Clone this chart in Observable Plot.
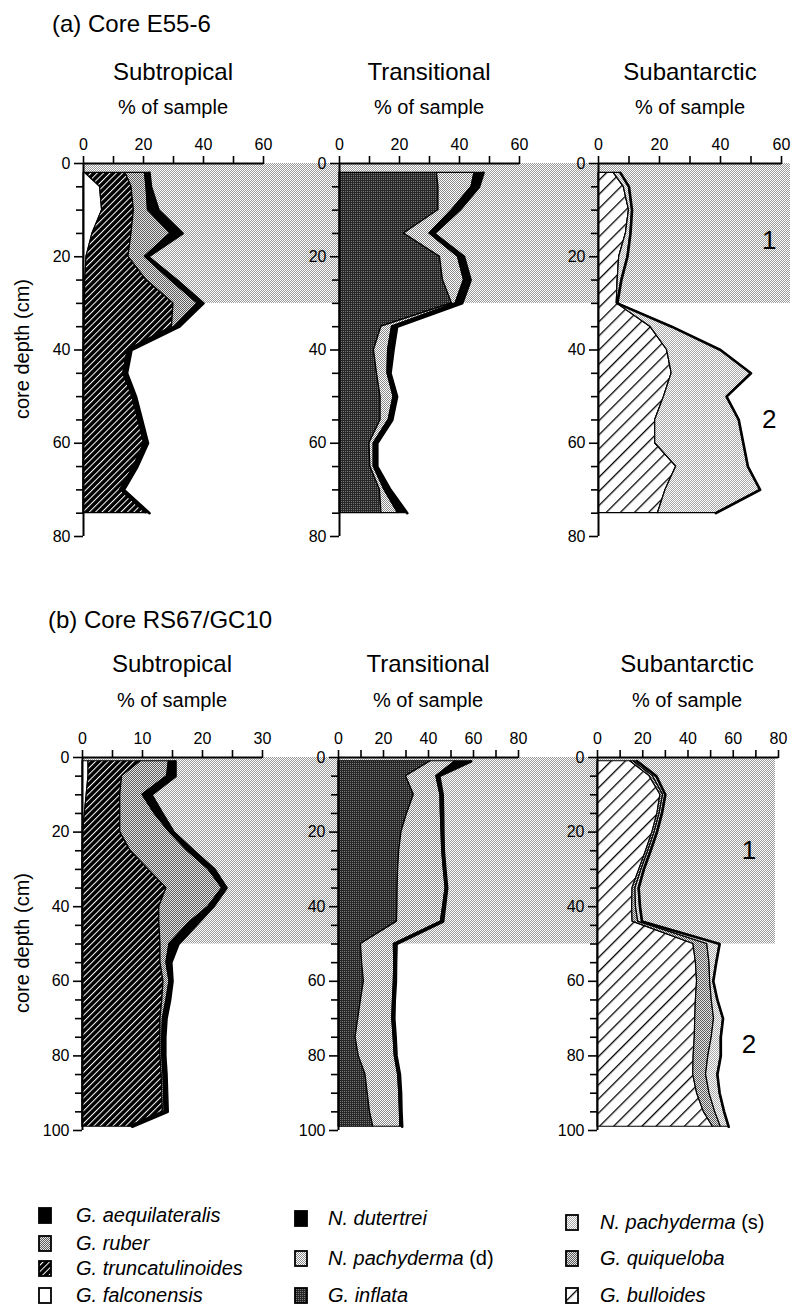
<!DOCTYPE html>
<html>
<head>
<meta charset="utf-8">
<title>Planktonic foraminifera in cores E55-6 and RS67/GC10</title>
<script src="https://cdn.jsdelivr.net/npm/d3@7"></script>
<script src="https://cdn.jsdelivr.net/npm/@observablehq/plot@0.6"></script>
<style>
  html, body { margin: 0; padding: 0; background: #fff; }
  #page { position: relative; width: 798px; height: 1307px; overflow: hidden; background: #fff;
          font-family: "Liberation Sans", Arial, Helvetica, sans-serif; color: #000; }
  .lbl { position: absolute; white-space: nowrap; line-height: 1; }
  .legend-item { position: absolute; display: flex; align-items: center; white-space: nowrap;
                 font-size: 20px; line-height: 1; transform: translateY(-50%); }
  .legend-item i { font-style: italic; }
</style>
</head>
<body>
<!-- shared fills: stipples and hatchings used by the areas and the legend -->
<svg width="0" height="0" style="position:absolute" aria-hidden="true">
  <defs>
    <pattern id="fill-zone" patternUnits="userSpaceOnUse" width="2" height="2">
      <rect width="2" height="2" fill="#ffffff"/>
      <rect width="1" height="1" fill="#9a9a9a"/>
      <rect x="1" y="1" width="1" height="1" fill="#9a9a9a"/>
    </pattern>
    <pattern id="fill-medium" patternUnits="userSpaceOnUse" width="2" height="2">
      <rect width="2" height="2" fill="#e6e6e6"/>
      <rect width="1" height="1" fill="#5a5a5a"/>
      <rect x="1" y="1" width="1" height="1" fill="#5a5a5a"/>
    </pattern>
    <pattern id="fill-pachy-d" patternUnits="userSpaceOnUse" width="2" height="2">
      <rect width="2" height="2" fill="#ffffff"/>
      <rect width="1" height="1" fill="#8a8a8a"/>
      <rect x="1" y="1" width="1" height="1" fill="#8a8a8a"/>
    </pattern>
    <pattern id="fill-pachy-s" patternUnits="userSpaceOnUse" width="2" height="2">
      <rect width="2" height="2" fill="#ffffff"/>
      <rect width="1" height="1" fill="#a8a8a8"/>
      <rect x="1" y="1" width="1" height="1" fill="#a8a8a8"/>
    </pattern>
    <pattern id="fill-dark" patternUnits="userSpaceOnUse" width="2" height="2">
      <rect width="2" height="2" fill="#262626"/>
      <rect width="1" height="1" fill="#7a7a7a"/>
    </pattern>
    <pattern id="fill-trunc" patternUnits="userSpaceOnUse" width="4.5" height="4.5" patternTransform="rotate(45)">
      <rect width="4.5" height="4.5" fill="#000"/>
      <rect width="1" height="4.5" fill="#fff"/>
    </pattern>
    <pattern id="fill-bulloides" patternUnits="userSpaceOnUse" width="10" height="10" patternTransform="rotate(45)">
      <rect width="10" height="10" fill="#fff"/>
      <rect width="1.3" height="10" fill="#000"/>
    </pattern>
  </defs>
</svg>
<div id="page"></div>
<script>
const FONT = '"Liberation Sans", Arial, Helvetica, sans-serif';

// ---------- Core E55-6: sample depths (cm) and % of sample ----------
const e55Depth = [2, 5, 10, 15, 20, 25, 30, 35, 40, 45, 50, 55, 60, 65, 70, 75];
// Subtropical group
const e55Falconensis      = [0.5, 5.5, 6.2, 3, 1, 0.6, 0.5, 0.3, 0, 0, 0, 0, 0, 0, 0, 0];
const e55Truncatulinoides = [13.5, 10.5, 10.6, 13, 14, 20.4, 29.5, 29.2, 14.8, 13.3, 16.3, 18.3, 20.3, 16.8, 12.3, 20.8];
const e55Ruber            = [6.5, 5, 4.7, 13, 5.5, 8, 8, 1, 0, 0, 0, 0, 0, 0, 0, 0];
const e55Aequilateralis   = [1.5, 1.5, 3.5, 4, 1, 2, 2, 1.5, 1.2, 1.2, 1.2, 1.2, 1.2, 1.2, 1.2, 1.2];
// Transitional group
const e55Inflata    = [32.5, 33, 33, 21.5, 33.5, 34.5, 37.5, 14, 11.5, 12.5, 13.7, 13.7, 10, 10.3, 13.5, 14];
const e55PachydermaD = [12.5, 11, 4.5, 8.5, 6, 7, 1.2, 3.5, 4.7, 3.5, 4.3, 2.7, 1.4, 1.1, 1.5, 5.5];
const e55Dutertrei  = [3, 2.5, 2.5, 1.5, 2, 2.2, 2.2, 1.7, 1.8, 1, 1.2, 1.2, 1.2, 1.2, 2, 3.1];
// Subantarctic group
const e55Bulloides   = [5, 8.3, 10, 9, 6.8, 6.3, 6, 17, 22.5, 24, 21.5, 18.6, 18.6, 25.5, 22, 19.5];
const e55Quinqueloba = [0, 0, 0, 0, 0, 0, 0, 0, 0, 0, 0, 0, 0, 0, 0, 0];
const e55PachydermaS = [2.2, 1.7, 1, 1.5, 2.7, 1.2, 0.2, 7, 17.5, 26, 20.5, 27.4, 28.9, 23.5, 31, 19];
// Zone 1 spans 0–30 cm; zone labels
const e55ZoneBase = 30;
const e55ZoneNames = ["1", "2"];
const e55ZoneDepth = [16.5, 55];
const e55ZonePct = [56, 56];

// ---------- Core RS67/GC10 ----------
const rs67Depth = [1, 5, 10, 15, 20, 25, 30, 35, 40, 44, 50, 55, 60, 65, 70, 75, 80, 85, 90, 95, 99];
const rs67Falconensis      = [1, 1, 0.7, 0.4, 0.1, 0, 0, 0, 0, 0, 0, 0, 0, 0, 0, 0, 0, 0, 0, 0, 0];
const rs67Truncatulinoides = [8.7, 5.6, 5.6, 5.9, 6.2, 8, 11, 14, 12.8, 12.8, 13, 13, 13.5, 13.3, 13, 13, 13, 13.2, 13.3, 13.4, 7.7];
const rs67Ruber            = [4.7, 7.5, 3.7, 5.7, 8.2, 9.5, 10, 9.3, 8.2, 5.2, 1.5, 1, 1, 0.7, 0.4, 0.3, 0.3, 0.3, 0.3, 0.3, 0.3];
const rs67Aequilateralis   = [1.1, 1.4, 1.5, 1.3, 0.7, 1, 1, 0.7, 0.8, 1.5, 1.5, 0.8, 0.5, 0.6, 0.6, 0.5, 0.5, 0.5, 0.5, 0.5, 0.3];
const rs67Inflata     = [41, 30, 33.5, 30.5, 28, 27, 26.5, 26.3, 26.2, 26, 10, 10.5, 11.3, 10, 8.8, 7.6, 9, 12, 13, 14, 15.5];
const rs67PachydermaD = [11, 13.5, 11.8, 15, 17.8, 19.1, 20.3, 21.3, 20.3, 19.5, 14.6, 14.3, 13.3, 14.2, 15.1, 16.9, 16, 14.5, 14, 13.3, 12];
const rs67Dutertrei   = [7, 1.3, 1, 1, 0.8, 0.7, 0.7, 0.7, 0.8, 1, 1.2, 0.8, 0.9, 0.8, 0.9, 0.9, 0.8, 0.8, 0.8, 0.7, 0.8];
const rs67Bulloides   = [14.5, 23, 27.8, 26.5, 24.3, 21.5, 18.5, 15.5, 15.3, 15.5, 42.4, 43.5, 44, 43.5, 43.2, 43, 42.5, 42.3, 44, 47, 51];
const rs67Quinqueloba = [1.5, 1.5, 1.2, 1, 1, 1, 1, 1.3, 1.7, 2.5, 6.1, 6, 5.8, 7, 8.3, 7.5, 6.5, 5.7, 5.5, 5, 3.5];
const rs67PachydermaS = [1.5, 1.5, 1, 1, 1, 1, 1, 1.4, 1.8, 1.7, 5.5, 3, 1.4, 2.5, 4, 4, 5.5, 5, 4.5, 4, 3.5];
const rs67ZoneBase = 50;
const rs67ZoneNames = ["1", "2"];
const rs67ZoneDepth = [25, 77];
const rs67ZonePct = [67, 67];

// ---------- axis ticks ----------
const ticks60 = [0, 20, 40, 60], minor60 = [10, 30, 50];
const ticks30 = [0, 10, 20, 30], minor30 = [5, 15, 25];
const ticks80 = [0, 20, 40, 60, 80], minor80 = [10, 30, 50, 70];
const depthTicks80 = [0, 20, 40, 60, 80];
const depthTicks100 = [0, 20, 40, 60, 80, 100];

// ---------- legend ----------
const legendColumns = [
  [["G. aequilateralis", ""], ["G. ruber", ""], ["G. truncatulinoides", ""], ["G. falconensis", ""]],
  [["N. dutertrei", ""], ["N. pachyderma", " (d)"], ["G. inflata", ""]],
  [["N. pachyderma", " (s)"], ["G. quiqueloba", ""], ["G. bulloides", ""]]
];
const legendKeys = [
  ["aequilateralis", "ruber", "truncatulinoides", "falconensis"],
  ["dutertrei", "pachydermaD", "inflata"],
  ["pachydermaS", "quinqueloba", "bulloides"]
];

// ---------- styling ----------
const speciesFill = {
  aequilateralis: "#000",
  ruber: "url(#fill-medium)",
  truncatulinoides: "url(#fill-trunc)",
  falconensis: "#fff",
  dutertrei: "#000",
  pachydermaD: "url(#fill-pachy-d)",
  inflata: "url(#fill-dark)",
  pachydermaS: "url(#fill-pachy-s)",
  quinqueloba: "url(#fill-medium)",
  bulloides: "url(#fill-bulloides)"
};

const page = document.getElementById("page");
const M = {top: 50, right: 30, bottom: 20, left: 60};

function label(text, x, y, {size = 20, align = "center", rotate = 0} = {}) {
  const el = document.createElement("div");
  el.className = "lbl";
  el.textContent = text;
  el.style.fontSize = size + "px";
  el.style.left = x + "px";
  el.style.top = y + "px";
  const tx = align === "center" ? "-50%" : "0";
  el.style.transform = `translate(${tx}, -50%)` + (rotate ? ` rotate(${rotate}deg)` : "");
  page.appendChild(el);
  return el;
}

function place(svg, left, top) {
  svg.style.position = "absolute";
  svg.style.left = left + "px";
  svg.style.top = top + "px";
  page.appendChild(svg);
}

// Shaded zone 1 band running behind all three panels of a row
function zoneBand({x0, x1, y0, y1, yDomain, base}) {
  const svg = Plot.plot({
    width: 798,
    height: M.top + (y1 - y0) + M.bottom,
    marginLeft: x0, marginRight: 798 - x1, marginTop: M.top, marginBottom: M.bottom,
    style: {background: "transparent", overflow: "visible"},
    y: {domain: yDomain, reverse: true, axis: null},
    marks: [Plot.rect([{top: 0, bottom: base}], {y1: "top", y2: "bottom", fill: "url(#fill-zone)"})]
  });
  place(svg, 0, y0 - M.top);
}

function panel({x0, x1, y0, y1, xDomain, xTicks, xMinor, yDomain, yTicks, depth, series, zone}) {
  const rows = series.flatMap(s => depth.map((d, i) => ({species: s.key, depth: d, value: s.values[i]})));
  const outline = depth.map((d, i) => ({depth: d, total: d3.sum(series, s => s.values[i])}));
  const yMinor = d3.range(yDomain[0], yDomain[1] + 1, 5).filter(v => !yTicks.includes(v));
  const marks = [
    Plot.areaX(rows, Plot.stackX({
      y: "depth", x: "value", z: "species",
      fill: d => speciesFill[d.species],
      stroke: "#000", strokeWidth: 1.2
    })),
    Plot.lineX(outline, {x: "total", y: "depth", stroke: "#000", strokeWidth: 2.6}),
    Plot.ruleY([yDomain[0]], {stroke: "#000", strokeWidth: 2}),
    Plot.ruleX([0], {stroke: "#000", strokeWidth: 2}),
    Plot.axisX(xTicks, {anchor: "top", label: null, tickSize: 8, tickPadding: 6, strokeWidth: 1.6, fontSize: 16}),
    Plot.axisX(xMinor, {anchor: "top", label: null, tickSize: 8, strokeWidth: 1.6, tickFormat: () => ""}),
    Plot.axisY(yTicks, {anchor: "left", label: null, tickSize: 9, tickPadding: 4, strokeWidth: 1.6, fontSize: 16}),
    Plot.axisY(yMinor, {anchor: "left", label: null, tickSize: 7, strokeWidth: 1.6, tickFormat: () => ""})
  ];
  if (zone) {
    const zrows = zone.names.map((n, i) => ({name: n, depth: zone.depth[i], pct: zone.pct[i]}));
    marks.push(Plot.text(zrows, {x: "pct", y: "depth", text: "name", fontSize: 26, fill: "#000"}));
  }
  const svg = Plot.plot({
    width: M.left + (x1 - x0) + M.right,
    height: M.top + (y1 - y0) + M.bottom,
    marginLeft: M.left, marginRight: M.right, marginTop: M.top, marginBottom: M.bottom,
    style: {background: "transparent", overflow: "visible", fontFamily: FONT, fontSize: "16px", color: "#000"},
    x: {domain: xDomain, label: null},
    y: {domain: yDomain, reverse: true, label: null},
    color: {type: "identity"},
    marks
  });
  place(svg, x0 - M.left, y0 - M.top);
}

function group(keys, arrays) {
  return keys.map((k, i) => ({key: k, values: arrays[i]}));
}

// ---------- row (a): Core E55-6 ----------
const rowA = {y0: 163, y1: 536, yDomain: [0, 80], yTicks: depthTicks80};
zoneBand({x0: 83, x1: 790, y0: rowA.y0, y1: rowA.y1, yDomain: rowA.yDomain, base: e55ZoneBase});
panel({...rowA, x0: 83, x1: 263, xDomain: [0, 60], xTicks: ticks60, xMinor: minor60, depth: e55Depth,
  series: group(["falconensis", "truncatulinoides", "ruber", "aequilateralis"],
                [e55Falconensis, e55Truncatulinoides, e55Ruber, e55Aequilateralis])});
panel({...rowA, x0: 339, x1: 519, xDomain: [0, 60], xTicks: ticks60, xMinor: minor60, depth: e55Depth,
  series: group(["inflata", "pachydermaD", "dutertrei"], [e55Inflata, e55PachydermaD, e55Dutertrei])});
panel({...rowA, x0: 598, x1: 781, xDomain: [0, 60], xTicks: ticks60, xMinor: minor60, depth: e55Depth,
  series: group(["bulloides", "quinqueloba", "pachydermaS"], [e55Bulloides, e55Quinqueloba, e55PachydermaS]),
  zone: {names: e55ZoneNames, depth: e55ZoneDepth, pct: e55ZonePct}});

// ---------- row (b): Core RS67/GC10 ----------
const rowB = {y0: 757, y1: 1130, yDomain: [0, 100], yTicks: depthTicks100};
zoneBand({x0: 82, x1: 775, y0: rowB.y0, y1: rowB.y1, yDomain: rowB.yDomain, base: rs67ZoneBase});
panel({...rowB, x0: 82, x1: 262, xDomain: [0, 30], xTicks: ticks30, xMinor: minor30, depth: rs67Depth,
  series: group(["falconensis", "truncatulinoides", "ruber", "aequilateralis"],
                [rs67Falconensis, rs67Truncatulinoides, rs67Ruber, rs67Aequilateralis])});
panel({...rowB, x0: 338, x1: 518, xDomain: [0, 80], xTicks: ticks80, xMinor: minor80, depth: rs67Depth,
  series: group(["inflata", "pachydermaD", "dutertrei"], [rs67Inflata, rs67PachydermaD, rs67Dutertrei])});
panel({...rowB, x0: 597, x1: 778, xDomain: [0, 80], xTicks: ticks80, xMinor: minor80, depth: rs67Depth,
  series: group(["bulloides", "quinqueloba", "pachydermaS"], [rs67Bulloides, rs67Quinqueloba, rs67PachydermaS]),
  zone: {names: rs67ZoneNames, depth: rs67ZoneDepth, pct: rs67ZonePct}});

// ---------- titles and axis names ----------
label("(a) Core E55-6", 52, 24, {size: 24, align: "left"});
label("(b) Core RS67/GC10", 48, 620, {size: 24, align: "left"});
const panelCentres = [[173, 429, 690], [172, 428, 687]];
const groupNames = ["Subtropical", "Transitional", "Subantarctic"];
[[72, 107], [664, 700]].forEach(([ty, sy], r) => {
  panelCentres[r].forEach((cx, i) => {
    label(groupNames[i], cx, ty, {size: 24});
    label("% of sample", cx, sy, {size: 20});
  });
});
label("core depth (cm)", 22, 349, {size: 20, rotate: -90});
label("core depth (cm)", 22, 943, {size: 20, rotate: -90});

// ---------- legend ----------
const legendX = [[38, 76], [294, 328], [565, 600]];
const legendY = [[1215, 1243, 1268, 1295], [1218, 1258, 1295], [1222, 1258, 1295]];
legendColumns.forEach((col, c) => {
  col.forEach(([name, suffix], r) => {
    const item = document.createElement("div");
    item.className = "legend-item";
    item.style.left = legendX[c][0] + "px";
    item.style.top = legendY[c][r] + "px";
    const fill = speciesFill[legendKeys[c][r]];
    const gap = legendX[c][1] - legendX[c][0] - 15;
    item.innerHTML =
      `<svg width="15" height="17" style="margin-right:${gap}px;overflow:visible">` +
      `<rect x="1" y="1" width="12" height="15" fill="${fill}" stroke="#000" stroke-width="1.8"/></svg>` +
      `<span><i>${name}</i>${suffix}</span>`;
    page.appendChild(item);
  });
});
</script>
</body>
</html>
